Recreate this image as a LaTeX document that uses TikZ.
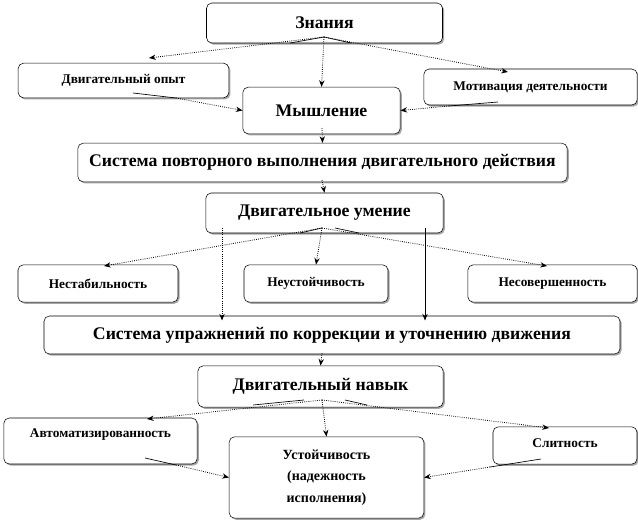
\documentclass[tikz,border=0pt]{standalone}
\usepackage{fontspec}
\setmainfont{Liberation Serif}
\usetikzlibrary{shadows,arrows.meta}
\begin{document}
\begin{tikzpicture}[x=0.75pt,y=-0.75pt,
  box/.style={draw, rounded corners=4pt, fill=white, inner sep=0pt, align=center,
    drop shadow={shadow xshift=1.2pt, shadow yshift=-1.2pt, fill=gray!70, opacity=1}},
  big/.style={font=\bfseries\fontsize{13.3}{15}\selectfont},
  small/.style={font=\bfseries\fontsize{10}{11}\selectfont},
  mid/.style={font=\bfseries\fontsize{10.5}{16}\selectfont},
  arr/.style={densely dotted, semithick, -{Stealth[length=5pt,width=4pt]}},
  sol/.style={line width=0.5pt}]
\useasboundingbox (0,0) rectangle (638,521);
\node[box,big,minimum width=177pt,minimum height=30pt] (zn) at (324.5,23) {Знания};
\node[box,small,minimum width=158pt,minimum height=26pt] (op) at (123.5,80.5) {Двигательный опыт};
\node[box,small,minimum width=160pt,minimum height=27pt] (mo) at (530.5,87) {Мотивация деятельности};
\node[box,big,minimum width=118pt,minimum height=35pt] (my) at (321.5,110.5) {Мышление};
\node[box,big,minimum width=367pt,minimum height=29pt] (s1) at (322.5,162.5) {Система повторного выполнения двигательного действия};
\node[box,big,minimum width=178pt,minimum height=30pt] (um) at (324.5,213) {Двигательное умение};
\node[box,small,minimum width=120pt,minimum height=28pt] (n1) at (98,283.5) {Нестабильность};
\node[box,small,minimum width=108pt,minimum height=28pt] (n2) at (316,283.5) {Неустойчивость};
\node[box,small,minimum width=127pt,minimum height=28pt] (n3) at (552.5,283.5) {Несовершенность};
\node[box,big,minimum width=432pt,minimum height=28.5pt] (s2) at (332,335) {Система упражнений по коррекции и уточнению движения};
\node[box,big,minimum width=184pt,minimum height=31pt] (nv) at (320.5,386.5) {Двигательный навык};
\node[box,small,minimum width=145pt,minimum height=34.5pt,text depth=12pt] (av) at (100.5,441) {Автоматизированность};
\node[box,small,minimum width=108pt,minimum height=28pt,text depth=4pt] (sl) at (565,445.5) {Слитность};
\node[box,mid,minimum width=146pt,minimum height=61pt] (us) at (326.5,477.5) {Устойчивость\\(надежность\\исполнения)};
% Znaniya
\coordinate (z0) at (324,37);
\draw[sol] (z0) -- (290,43) (z0) -- (351,43);
\draw[arr] (z0) -- (149,58);
\draw[arr] (z0) -- (my.north);
\draw[arr] (z0) -- (508,72);
\draw[sol] (133,93) -- (176,98);
\draw[arr] (176,98) -- (my.west);
\draw[sol] (498,102) -- (449,106);
\draw[arr] (449,106) -- (my.east);
\draw[arr] (322,128) -- (s1.north);
\draw[arr] (322,180) -- (um.north);
% umenie
\coordinate (u0) at (322,228);
\draw[sol] (u0) -- (300,233) (335,228) -- (359,233);
\draw[arr] (u0) -- (104,266);
\draw[arr] (u0) -- (n2.north);
\draw[arr] (u0) -- (547,266);
\draw[arr] (222,228) -- (222,320.5);
\draw[sol,-{Stealth[length=5pt,width=4pt]}] (425,228) -- (425,320.5);
\draw[arr] (322,353) -- (nv.north);
% navyk
\coordinate (v0) at (322,400);
\draw[sol] (304,400) -- (253,405) (345,400) -- (367,405);
\draw[arr] (v0) -- (147,419);
\draw[arr] (v0) -- (us.north);
\draw[arr] (v0) -- (549,428);
\draw[sol] (145,458) -- (176,465);
\draw[arr] (176,465) -- (us.west);
\draw[sol] (541,459) -- (490,467);
\draw[arr] (490,467) -- (us.east);
\end{tikzpicture}
\end{document}
